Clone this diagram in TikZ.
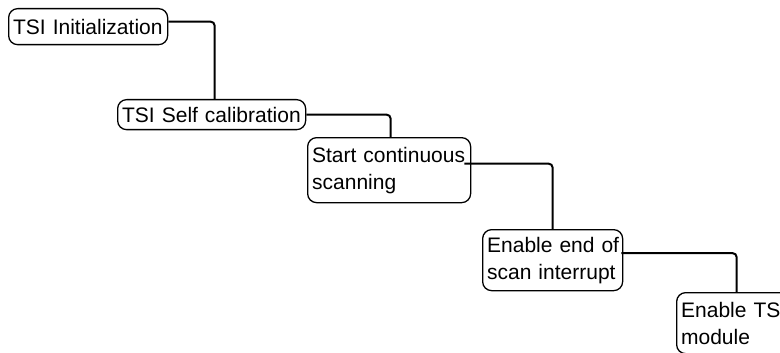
\documentclass[tikz,border=0pt]{standalone}
\usepackage{fontspec}
\setmainfont{Liberation Sans}
\begin{document}
\begin{tikzpicture}[x=1pt,y=-1pt,
  box/.style={draw, rounded corners=9pt, line width=1.3pt, anchor=north west, align=left,
    inner xsep=4.5pt, inner ysep=0pt, font=\fontsize{21}{27}\selectfont},
  link/.style={line width=2pt, rounded corners=4pt}]
\clip (0,0) rectangle (780,353);
\node[box, text width=150pt, minimum height=36pt] (b1) at (8,8) {\mbox{TSI Initialization}};
\node[box, text width=179pt, minimum height=30pt] (b2) at (117,99) {\mbox{TSI Self calibration}};
\node[box, text width=154pt, minimum height=65pt] (b3) at (307,137) {\mbox{Start continuous}\\\mbox{scanning}};
\node[box, text width=131pt, minimum height=61pt] (b4) at (482,229) {\mbox{Enable end of}\\\mbox{scan interrupt}};
\node[box, text width=131pt, minimum height=61pt] (b5) at (676,292) {\mbox{Enable TS}\\\mbox{module}};
\draw[link] ([yshift=5pt]b1.east) -| ([xshift=3pt]b2.north);
\draw[link] (b2.east) -| ([xshift=1.5pt]b3.north);
\draw[link] ([xshift=-7pt,yshift=6.5pt]b3.east) -| (b4.north);
\draw[link] ([xshift=-2pt,yshift=7pt]b4.east) -| ([xshift=-10pt]b5.north);
\end{tikzpicture}
\end{document}
